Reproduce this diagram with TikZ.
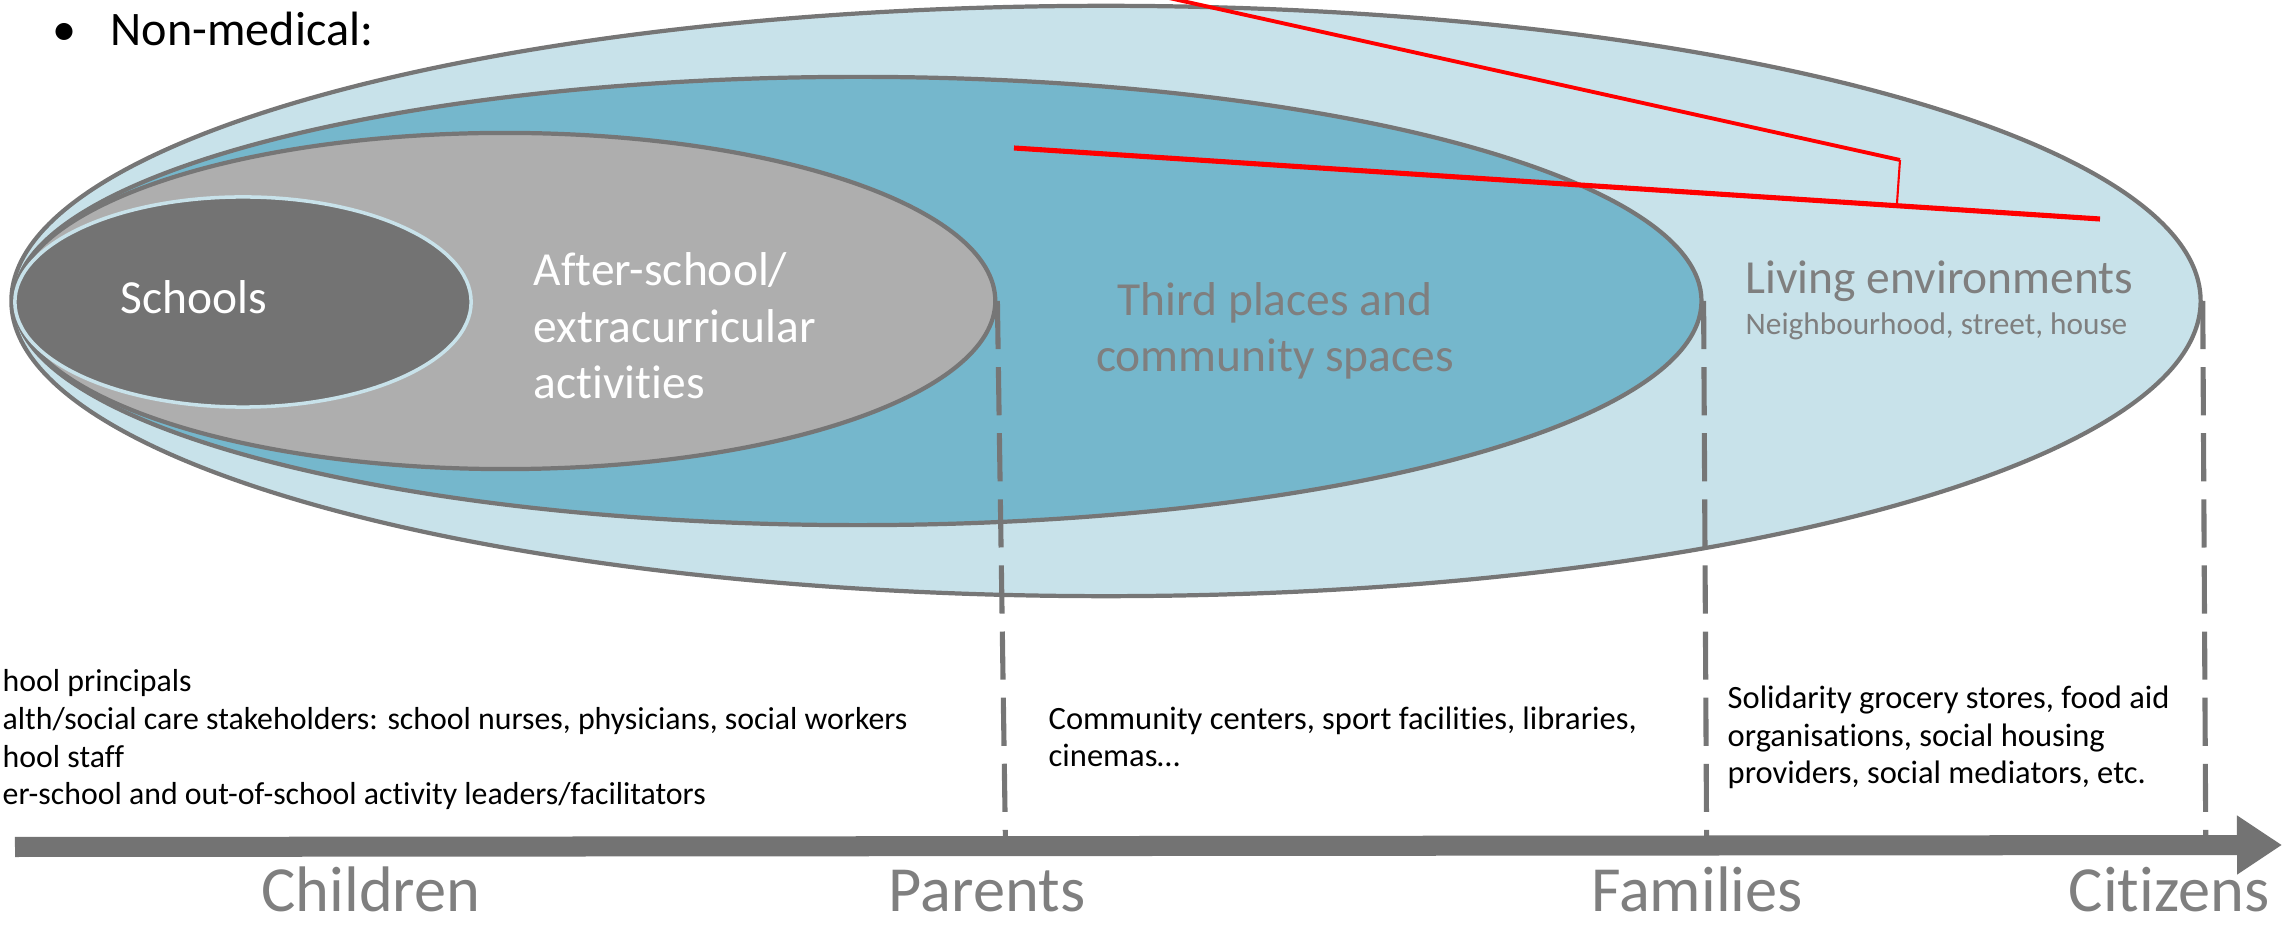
\documentclass[tikz,border=0pt]{standalone}
\usepackage{fontspec}
\setmainfont{Carlito}[Ligatures=NoCommon]
\usepackage{xcolor}
\usepackage{tikz}
\usetikzlibrary{shapes.geometric,arrows.meta}

\definecolor{outerfill}{RGB}{200,226,234}
\definecolor{tealfill}{RGB}{117,183,204}
\definecolor{midgray}{RGB}{174,174,174}
\definecolor{darkgray}{RGB}{115,115,115}
\definecolor{linegray}{RGB}{118,118,118}
\definecolor{textgray}{RGB}{127,127,127}

\begin{document}
\begin{tikzpicture}[
    x=0.01cm, y=-0.01cm, % one unit = one pixel of the reference
    zone/.style={ellipse, draw=linegray, line width=1.2pt, inner sep=0pt}, % nested settings
    bigtext/.style={font=\fontsize{13.5}{16.2}\selectfont, inner sep=0pt},
    smalltext/.style={font=\fontsize{9.25}{10.8}\selectfont, align=left, inner sep=0pt, anchor=base west},
    axislabel/.style={font=\fontsize{18.3}{22}\selectfont, text=textgray, inner sep=0pt, anchor=base},
    guide/.style={draw=linegray, line width=1.45pt, dash pattern=on 13.7pt off 5.1pt},
    redline/.style={draw=red, line width=1.1pt}
]
\useasboundingbox (0,0) rectangle (2290,925);
\clip (0,0) rectangle (2290,925);

% nested settings, largest first
\node[zone, fill=outerfill, minimum width=21.88cm, minimum height=5.9cm] (outer) at (1106,301) {};
\node[zone, fill=tealfill, minimum width=16.86cm, minimum height=4.48cm] (third) at (858,301) {};
\node[zone, fill=midgray, minimum width=9.8cm, minimum height=3.36cm] (after) at (505,301) {};
\node[zone, fill=darkgray, draw=outerfill, line width=1pt, minimum width=4.56cm, minimum height=2.1cm] (school) at (243,302) {};

% labels inside the settings (base = last line)
\node[bigtext, text=white, anchor=base west] (schoollbl) at (120,314) {Schools};
\node[bigtext, text=white, align=left, anchor=base west] (afterlbl) at (533,399) {After-school/\\extracurricular\\activities};
\node[bigtext, text=textgray, align=center, anchor=base] (thirdlbl) at (1275,372) {Third places and\\community spaces};
\node[bigtext, text=textgray, anchor=base west] (livinglbl) at (1745,294) {Living environments};
\node[font=\fontsize{8.9}{10.5}\selectfont, text=textgray, inner sep=0pt, anchor=base west] (livingsub) at (1745,335) {Neighbourhood, street, house};

\node[font=\fontsize{13.7}{16.4}\selectfont, inner sep=0pt, anchor=base west] (nonmed) at (52,46) {\makebox[16.5pt][l]{•}Non-medical:};

% red callout lines
\coordinate (r1) at (1160,-4);
\coordinate (r2) at (1900,160);
\coordinate (r3) at (1897,203);
\coordinate (r4) at (1014,148);
\coordinate (r5) at (2100,219);
\draw[redline] (r1) -- (r2);
\draw[redline, line width=0.6pt] (r2) -- (r3);
\draw[redline, line width=1.45pt] (r4) -- (r5);

% dashed boundaries down to the axis
\draw[guide] (after.east) -- ++(8,537);
\draw[guide] (third.east) -- ++(3,537);
\draw[guide] (outer.east) -- ++(3,539);

% stakeholders
\node[smalltext, font=\fontsize{9.05}{10.8}\selectfont] (schoolppl) at (2,805) {hool principals\\alth/social care stakeholders: school nurses, physicians, social workers\\hool staff\\er-school and out-of-school activity leaders/facilitators};
\node[smalltext] (thirdppl) at (1048,767) {Community centers, sport facilities, libraries,\\cinemas…};
\node[smalltext] (livingppl) at (1727,784) {Solidarity grocery stores, food aid\\organisations, social housing\\providers, social mediators, etc.};

% axis
\coordinate (axisstart) at (15,847);
\coordinate (axisend) at (2282,845);
\draw[darkgray, line width=0.2cm, -{Triangle[length=0.45cm, width=0.56cm]}] (axisstart) -- (axisend);

\node[axislabel] (children) at (371,912) {Children};
\node[axislabel] (parents) at (987,912) {Parents};
\node[axislabel] (families) at (1697,912) {Families};
\node[axislabel] (citizens) at (2169,912) {Citizens};
\end{tikzpicture}
\end{document}
